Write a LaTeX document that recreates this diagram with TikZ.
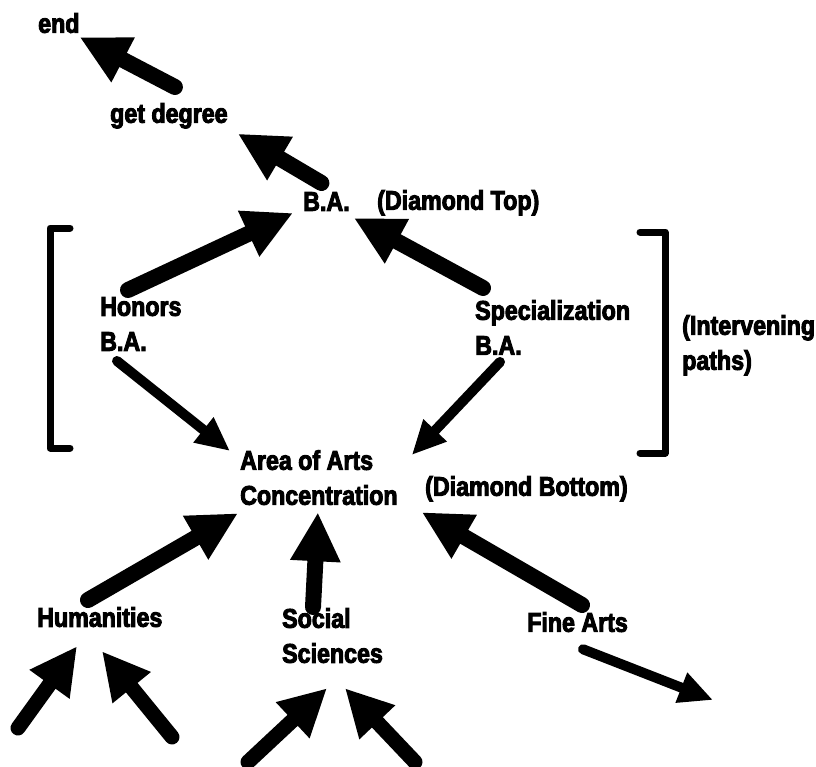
\documentclass[tikz,border=0pt]{standalone}
\usepackage{fontspec}
\newfontfamily\lblfont{Liberation Sans}[FakeStretch=0.86,BoldFeatures={FakeBold=3.5}]
\usetikzlibrary{arrows.meta,calc}
\tikzset{
  lbl/.style={inner sep=0pt, anchor=north west, align=left,
    font=\lblfont\bfseries\fontsize{27}{35}\selectfont},
  thickarr/.style={line width=16pt, line cap=round, -{Triangle[length=49pt,width=47pt]}},
  thinarr/.style={line width=10pt, line cap=round, -{Triangle[length=34pt,width=30pt]}},
  midarr/.style={line width=15pt, line cap=round, -{Triangle[length=47pt,width=46pt]}},
  brack/.style={line width=7pt, line cap=round, line join=round}
}
\begin{document}
\begin{tikzpicture}[x=1pt,y=-1pt]
\useasboundingbox (0,0) rectangle (816,766);
% labels
\node[lbl] (end) at (38,13) {end};
\node[lbl] (getdeg) at (110,103) {get degree};
\node[lbl] (batop) at (303,192) {B.A.};
\node[lbl] (dtop) at (377,190) {(Diamond Top)};
\node[lbl] (honors) at (100,297) {Honors\\B.A.};
\node[lbl] (spec) at (475,300) {Specialization\\B.A.};
\node[lbl] (interv) at (682,315) {(Intervening\\paths)};
\node[lbl] (area) at (240,450) {Area of Arts\\Concentration};
\node[lbl] (dbot) at (425,476) {(Diamond Bottom)};
\node[lbl] (hum) at (37,607) {Humanities};
\node[lbl] (soc) at (282,608) {Social\\Sciences};
\node[lbl] (fine) at (527,612) {Fine Arts};
% free ends
\coordinate (fineout) at (713,700);
\coordinate (hin1) at (18,728);
\coordinate (hin2) at (172,737);
\coordinate (sin1) at (248,762);
\coordinate (sin2) at (415,762);
% brackets
\draw[brack] (70,228) -- (50,228) -- (50,448) -- (70,448);
\draw[brack] (640,232) -- (665,232) -- (665,453) -- (640,453);
% arrows
\draw[thickarr] ($(getdeg.north)+(6,-16)$) -- ($(end.south east)+(0,4)$);
\draw[thickarr] ($(batop.north)+(-5,-9)$) -- ($(getdeg.south east)+(10,5)$);
\draw[thickarr] ($(honors.north west)+(28,-7)$) -- ($(batop.south west)+(-10,2)$);
\draw[thickarr] ($(spec.north west)+(8,-12)$) -- ($(batop.south east)+(4,7)$);
\draw[thinarr] ($(honors.south west)+(17,10)$) -- ($(area.north west)+(-10,1)$);
\draw[thinarr] ($(spec.south west)+(25,7)$) -- ($(area.north east)+(14,5)$);
\draw[thickarr] ($(hum.north west)+(51,-7)$) -- ($(area.south west)+(-2,8)$);
\draw[thickarr] ($(soc.north west)+(31,-1)$) -- ($(area.south)+(-1,7)$);
\draw[thickarr] ($(fine.north west)+(55,-7)$) -- ($(area.south east)+(24,7)$);
\draw[thinarr] ($(fine.south west)+(56,17)$) -- (fineout);
\draw[midarr] (hin1) -- ($(hum.south west)+(40,19)$);
\draw[midarr] (hin2) -- ($(hum.south west)+(65,24)$);
\draw[midarr] (sin1) -- ($(soc.south west)+(45,25)$);
\draw[midarr] (sin2) -- ($(soc.south west)+(63,25)$);
\end{tikzpicture}
\end{document}
